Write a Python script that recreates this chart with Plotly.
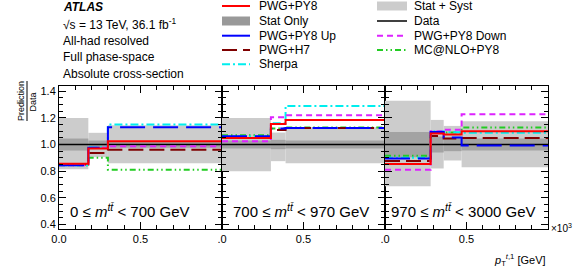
import plotly.graph_objects as go

# ---------------- data ----------------
panel_labels = ["0 ≤ <i>m</i><sup><i>t</i><i>t̄</i></sup> < 700 GeV",
                "700 ≤ <i>m</i><sup><i>t</i><i>t̄</i></sup> < 970 GeV",
                "970 ≤ <i>m</i><sup><i>t</i><i>t̄</i></sup> < 3000 GeV"]
edges = [[0, 0.18, 0.30, 1.0],
         [0, 0.30, 0.39, 1.0],
         [0, 0.28, 0.36, 0.47, 1.0]]

pwg_py8 = [[0.855, 0.97, 1.025], [1.05, 1.155, 1.185], [0.853, 1.082, 1.075, 1.10]]
pwg_up = [[0.845, 0.975, 1.13], [1.062, 1.12, 1.125], [0.895, 1.095, 1.053, 0.992]]
pwg_down = [[0.845, 0.975, 0.987], [1.025, 1.205, 1.22], [0.81, 1.10, 1.112, 1.228]]
pwg_h7 = [[0.85, 0.937, 0.96], [1.05, 1.11, 1.125], [0.877, 1.065, 1.045, 1.05]]
sherpa = [[0.845, 0.98, 1.15], [1.06, 1.16, 1.29], [0.90, 1.10, 1.092, 1.088]]
mcnlo = [[0.845, 0.90, 0.81], [1.07, 1.12, 1.128], [0.915, 1.095, 1.09, 1.128]]

syst_lo = [[0.815, 0.905, 0.86], [0.80, 0.875, 0.86], [0.687, 0.82, 0.88, 0.83]]
syst_hi = [[1.20, 1.088, 1.145], [1.20, 1.09, 1.13], [1.33, 1.185, 1.14, 1.175]]
stat_err = [[0.045, 0.03, 0.025], [0.03, 0.035, 0.03], [0.095, 0.06, 0.05, 0.045]]

data_val = 1.0

# ---------------- styles ----------------
FONT = "Liberation Sans, Arial, Helvetica, sans-serif"
C_SYST = "#cccccc"
C_STAT = "#a3a3a3"
series = [
    ("MC@NLO+PY8", mcnlo, "#22cc22", "6px,3px,1.5px,3px,1.5px,3px"),
    ("PWG+H7", pwg_h7, "#7f0000", "15px,6px"),
    ("Sherpa", sherpa, "#00eeee", "8px,3px,2px,3px"),
    ("PWG+PY8 Down", pwg_down, "#dd22ff", "6px,4px"),
    ("PWG+PY8 Up", pwg_up, "#0000ff", "25px,8px"),
    ("PWG+PY8", pwg_py8, "#ff0000", "solid"),
]

fig = go.Figure()
axn = ["", "2", "3"]
for p in range(3):
    xa = "x" + axn[p]
    ya = "y" + axn[p]
    e = edges[p]
    centers = [(e[i] + e[i + 1]) / 2 for i in range(len(e) - 1)]
    widths = [e[i + 1] - e[i] for i in range(len(e) - 1)]
    fig.add_trace(go.Bar(x=centers, width=widths, base=syst_lo[p],
                         y=[h - l for h, l in zip(syst_hi[p], syst_lo[p])],
                         marker=dict(color=C_SYST, line=dict(width=0)),
                         xaxis=xa, yaxis=ya, showlegend=False, hoverinfo="skip"))
    fig.add_trace(go.Bar(x=centers, width=widths,
                         base=[data_val - s for s in stat_err[p]],
                         y=[2 * s for s in stat_err[p]],
                         marker=dict(color=C_STAT, line=dict(width=0)),
                         xaxis=xa, yaxis=ya, showlegend=False, hoverinfo="skip"))
    fig.add_trace(go.Scatter(x=[e[0], e[-1]], y=[data_val, data_val], mode="lines",
                             line=dict(color="black", width=1.5),
                             xaxis=xa, yaxis=ya, showlegend=False))
    for name, vals, col, dash in series:
        v = vals[p]
        fig.add_trace(go.Scatter(x=e, y=v + [v[-1]], mode="lines",
                                 line=dict(color=col, width=2, dash=dash, shape="hv"),
                                 xaxis=xa, yaxis=ya, showlegend=False, name=name))

# ---------------- layout ----------------
L, R, T, B = 59, 548, 86, 229
W, H = 581, 272


def X(px):
    return (px - L) / (R - L)


def Y(py):
    return (B - py) / (B - T)


layout = dict(width=W, height=H, margin=dict(l=L, r=W - R, t=T, b=H - B),
              paper_bgcolor="white", plot_bgcolor="white", barmode="overlay",
              showlegend=False, font=dict(family=FONT, size=11, color="black"))
ticktexts = [["0.0", "0.5"], [".0", "0.5"], [".0", "0.5"]]
for p in range(3):
    layout["xaxis" + axn[p]] = dict(
        domain=[p / 3, (p + 1) / 3], range=[0, 1.0], anchor="y" + axn[p],
        showline=True, linecolor="black", linewidth=1, mirror="allticks",
        ticks="inside", ticklen=7, tickcolor="black", tickwidth=1,
        tickvals=[0, 0.5], ticktext=ticktexts[p],
        minor=dict(dtick=0.1, tick0=0, ticks="inside", ticklen=4, tickcolor="black"),
        showgrid=False, zeroline=False, tickfont=dict(size=11))
    layout["yaxis" + axn[p]] = dict(
        domain=[0, 1], range=[0.365, 1.44], anchor="x" + axn[p],
        showline=True, linecolor="black", linewidth=1, mirror="allticks",
        ticks="inside", ticklen=7, tickcolor="black", tickwidth=1,
        dtick=0.2, tick0=0, tickformat=".1f",
        minor=dict(dtick=0.05, tick0=0, ticks="inside", ticklen=4, tickcolor="black"),
        showgrid=False, zeroline=False, showticklabels=(p == 0),
        tickfont=dict(size=11))
fig.update_layout(**layout)

ann = []
shapes = []


def text(px, py, s, size=12, xanchor="left", yanchor="middle", **kw):
    ann.append(dict(x=X(px), y=Y(py), xref="paper", yref="paper", text=s,
                    showarrow=False, xanchor=xanchor, yanchor=yanchor,
                    font=dict(family=FONT, size=size, color="black"), **kw))


# ATLAS block
text(61, 7, "<b><i>ATLAS</i></b>", 12)
text(61, 24, "√s = 13 TeV, 36.1 fb<sup>-1</sup>", 12)
text(61, 41, "All-had resolved", 12)
text(61, 57.5, "Full phase-space", 12)
text(61, 74, "Absolute cross-section", 12)

# legend
rows = [6, 21, 35.7, 50, 64.3]
col1 = [("PWG+PY8", "line", "#ff0000", "solid"),
        ("Stat Only", "box", "#999999", None),
        ("PWG+PY8 Up", "line", "#0000ff", "solid"),
        ("PWG+H7", "line", "#7f0000", "15px,6px"),
        ("Sherpa", "line", "#00eeee", "8px,3px,2px,3px")]
col2 = [("Stat + Syst", "box", C_SYST, None),
        ("Data", "line", "black", "solid"),
        ("PWG+PY8 Down", "line", "#dd22ff", "6px,4px"),
        ("MC@NLO+PY8", "line", "#22cc22", "6px,3px,1.5px,3px,1.5px,3px")]
for col, (x0, x1, xt) in ((col1, (222, 250, 257)), (col2, (377, 407, 412))):
    for i, (lab, kind, c, d) in enumerate(col):
        yy = rows[i]
        if kind == "line":
            shapes.append(dict(type="line", xref="paper", yref="paper",
                               x0=X(x0), x1=X(x1), y0=Y(yy), y1=Y(yy),
                               line=dict(color=c, width=2 if c != "black" else 1.5, dash=d)))
        else:
            shapes.append(dict(type="rect", xref="paper", yref="paper",
                               x0=X(x0), x1=X(x1), y0=Y(yy - 4.5), y1=Y(yy + 4.5),
                               fillcolor=c, line=dict(width=0)))
        text(xt, yy, lab, 12)

# panel labels
for p, px in enumerate([68, 231, 389]):
    text(px, 210, panel_labels[p], 15)

# y title as fraction
text(21, 101, "Prediction", 9, xanchor="center", textangle=-90)
text(32.5, 102, "Data", 9, xanchor="center", textangle=-90)
shapes.append(dict(type="line", xref="paper", yref="paper",
                   x0=X(27), x1=X(27), y0=Y(81), y1=Y(121),
                   line=dict(color="black", width=1)))

# x title and exponent
text(548, 260, "<i>p</i><sub>T</sub><sup><i>t</i>,1</sup> [GeV]", 11, xanchor="right")
text(549, 228, "×10<sup>3</sup>", 10)

fig.update_layout(annotations=ann, shapes=shapes)
fig.write_html("out.html", config={"displayModeBar": False},
               post_script="document.body.style.margin='0';document.body.style.padding='0';")
